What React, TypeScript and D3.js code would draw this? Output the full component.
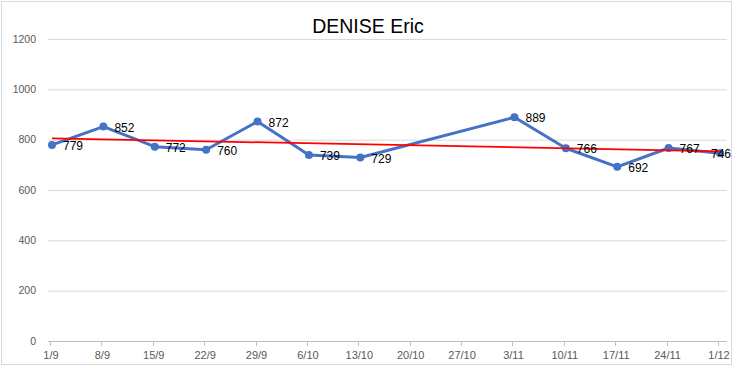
import React, { useEffect, useRef } from "react";
import * as d3 from "d3";

const dates = [
  "2014-09-01", "2014-09-08", "2014-09-15", "2014-09-22", "2014-09-29",
  "2014-10-06", "2014-10-13", "2014-11-03", "2014-11-10", "2014-11-17",
  "2014-11-24", "2014-12-01",
];
const values = [779, 852, 772, 760, 872, 739, 729, 889, 766, 692, 767, 746];
const tickDates = [
  "2014-09-01", "2014-09-08", "2014-09-15", "2014-09-22", "2014-09-29",
  "2014-10-06", "2014-10-13", "2014-10-20", "2014-10-27", "2014-11-03",
  "2014-11-10", "2014-11-17", "2014-11-24", "2014-12-01",
];
const yTicks = [0, 200, 400, 600, 800, 1000, 1200];

const W = 736;
const H = 367;

const App = () => {
  const ref = useRef<SVGSVGElement>(null);

  useEffect(() => {
    document.body.style.margin = "0";
    const svg = d3.select(ref.current);
    svg.selectAll("*").remove();

    const parse = d3.utcParse("%Y-%m-%d");
    const pts = dates.map((d, i) => ({ date: parse(d)!, value: values[i] }));
    const ticks = tickDates.map((d) => parse(d)!);

    const x = d3.scaleUtc().domain([ticks[0], ticks[ticks.length - 1]]).range([52, 720]);
    const y = d3.scaleLinear().domain([0, 1200]).range([341, 39]);
    const font = "'Liberation Sans', Arial, sans-serif";

    // outer frame
    svg.append("rect")
      .attr("x", 1.5).attr("y", 1.5)
      .attr("width", 730).attr("height", 363)
      .attr("fill", "#fff").attr("stroke", "#d9d9d9");

    // title
    svg.append("text")
      .attr("x", 368).attr("y", 33)
      .attr("text-anchor", "middle")
      .attr("font-family", font).attr("font-size", 19.5)
      .attr("fill", "#000")
      .text("DENISE Eric");

    // gridlines
    svg.append("g").selectAll("line")
      .data(yTicks.filter((t) => t > 0))
      .join("line")
      .attr("x1", 48).attr("x2", 727)
      .attr("y1", (d) => y(d) + 0.5).attr("y2", (d) => y(d) + 0.5)
      .attr("stroke", "#d9d9d9");

    // y labels
    svg.append("g").selectAll("text")
      .data(yTicks)
      .join("text")
      .attr("x", 36).attr("y", (d) => y(d))
      .attr("dy", "0.35em")
      .attr("text-anchor", "end")
      .attr("font-family", font).attr("font-size", 10.5)
      .attr("fill", "#595959")
      .text((d) => d);

    // x axis
    svg.append("line")
      .attr("x1", 48).attr("x2", 727)
      .attr("y1", y(0) + 0.5).attr("y2", y(0) + 0.5)
      .attr("stroke", "#bfbfbf");
    svg.append("g").selectAll("line")
      .data(ticks)
      .join("line")
      .attr("x1", (d) => Math.round(x(d)) - 1.5).attr("x2", (d) => Math.round(x(d)) - 1.5)
      .attr("y1", y(0)).attr("y2", y(0) + 5)
      .attr("stroke", "#bfbfbf");
    svg.append("g").selectAll("text")
      .data(ticks)
      .join("text")
      .attr("x", (d) => x(d) - 1).attr("y", 359)
      .attr("text-anchor", "middle")
      .attr("font-family", font).attr("font-size", 11)
      .attr("fill", "#595959")
      .text((d) => `${d.getUTCDate()}/${d.getUTCMonth() + 1}`);

    // series line
    const line = d3.line<{ date: Date; value: number }>()
      .x((d) => x(d.date))
      .y((d) => y(d.value));
    svg.append("path")
      .datum(pts)
      .attr("fill", "none")
      .attr("stroke", "#4472c4")
      .attr("stroke-width", 3)
      .attr("stroke-linejoin", "round")
      .attr("d", line);

    svg.append("g").selectAll("circle")
      .data(pts)
      .join("circle")
      .attr("cx", (d) => x(d.date)).attr("cy", (d) => y(d.value))
      .attr("r", 4)
      .attr("fill", "#4472c4");

    // linear trend line (least squares on date)
    const xs = pts.map((p) => +p.date);
    const mx = d3.mean(xs)!;
    const my = d3.mean(values)!;
    const sxy = d3.sum(pts, (p) => (+p.date - mx) * (p.value - my));
    const sxx = d3.sum(xs, (v) => (v - mx) * (v - mx));
    const slope = sxy / sxx;
    const trend = [ticks[0], ticks[ticks.length - 1]].map((d) => ({
      date: d,
      value: my + slope * (+d - mx),
    }));
    svg.append("path")
      .datum(trend)
      .attr("fill", "none")
      .attr("stroke", "#ff0000")
      .attr("stroke-width", 1.75)
      .attr("d", line);

    // data labels (the last one is pushed back inside the frame, as in Excel)
    const last = pts.length - 1;
    svg.append("g").selectAll("text")
      .data(pts)
      .join("text")
      .attr("x", (d, i) => (i === last ? 731 : x(d.date) + 11))
      .attr("y", (d) => y(d.value) + 1)
      .attr("dy", "0.35em")
      .attr("text-anchor", (d, i) => (i === last ? "end" : "start"))
      .attr("font-family", font).attr("font-size", 12)
      .attr("fill", "#000")
      .text((d) => d.value);
  }, []);

  return <svg ref={ref} width={W} height={H} style={{ display: "block" }} />;
};

export default App;
